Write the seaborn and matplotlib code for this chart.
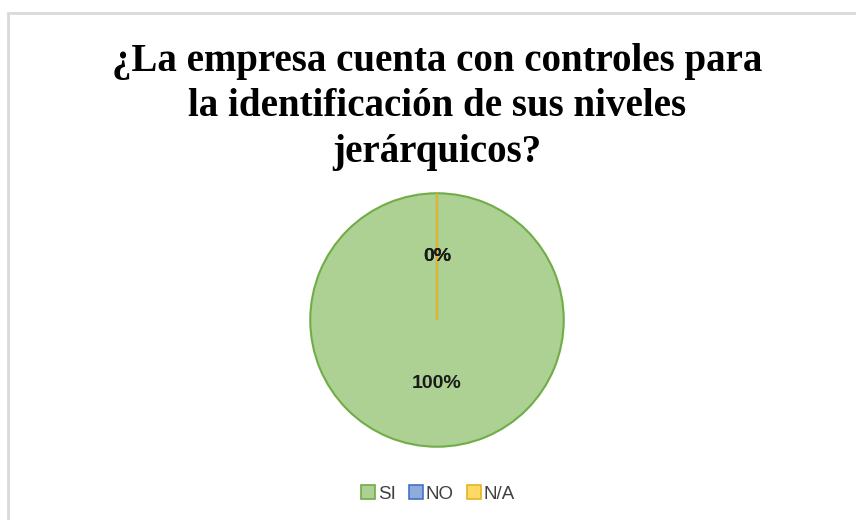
import numpy as np
import seaborn as sns
import matplotlib.pyplot as plt
from matplotlib.patches import Rectangle, Patch

# Chart data
categories = ["SI", "NO", "N/A"]
values = [100, 0, 0]
pct_labels = ["100%", "0%", "0%"]
title = "¿La empresa cuenta con controles para\nla identificación de sus niveles\njerárquicos?"

fill_colors = ["#acd193", "#8faadc", "#ffd966"]
edge_colors = ["#70ad47", "#4472c4", "#e6b422"]

sns.set_theme(style="white")
plt.rcParams["font.family"] = ["Liberation Sans", "DejaVu Sans"]

fig = plt.figure(figsize=(8.56, 5.2), dpi=100)
fig.patch.set_facecolor("white")

# light grey chart frame (partly cut off at the right and bottom)
fig.patches.append(Rectangle((8 / 856, -0.2), 1.2, 1.2 - 13 / 520,
                             transform=fig.transFigure, fill=False,
                             edgecolor="#d9d9d9", linewidth=2))

# pie axes: centre (437, 320) px, radius 128 px
ax = fig.add_axes([309 / 856, 72 / 520, 256 / 856, 256 / 520])
wedges, texts, autotexts = ax.pie(
    values, colors=fill_colors, startangle=90, counterclock=False,
    autopct=lambda p: "", pctdistance=0.5, radius=1,
    wedgeprops=dict(linewidth=1.5))
for w, ec in zip(wedges, edge_colors):
    w.set_edgecolor(ec)
for t, lab in zip(autotexts, pct_labels):
    t.set_text(lab)
    t.set_fontsize(14)
    t.set_fontweight("bold")
    t.set_color("#1a1a1a")
ax.set_xlim(-1.01, 1.01)
ax.set_ylim(-1.01, 1.01)
ax.set_aspect("equal")

fig.text(437 / 856, 1 - 107 / 520, title, ha="center", va="center",
         fontsize=28, fontweight="bold", family=["Liberation Serif"],
         linespacing=1.3, color="black")

handles = [Patch(facecolor=f, edgecolor=e, linewidth=1.2)
           for f, e in zip(fill_colors, edge_colors)]
fig.legend(handles, categories, loc="center", bbox_to_anchor=(438 / 856, 1 - 494 / 520),
           ncol=3, frameon=False, fontsize=13.5, handlelength=0.75, handleheight=0.75,
           handletextpad=0.15, columnspacing=0.7, labelcolor="#404040")

fig.savefig("out.png", dpi=100, facecolor="white")
